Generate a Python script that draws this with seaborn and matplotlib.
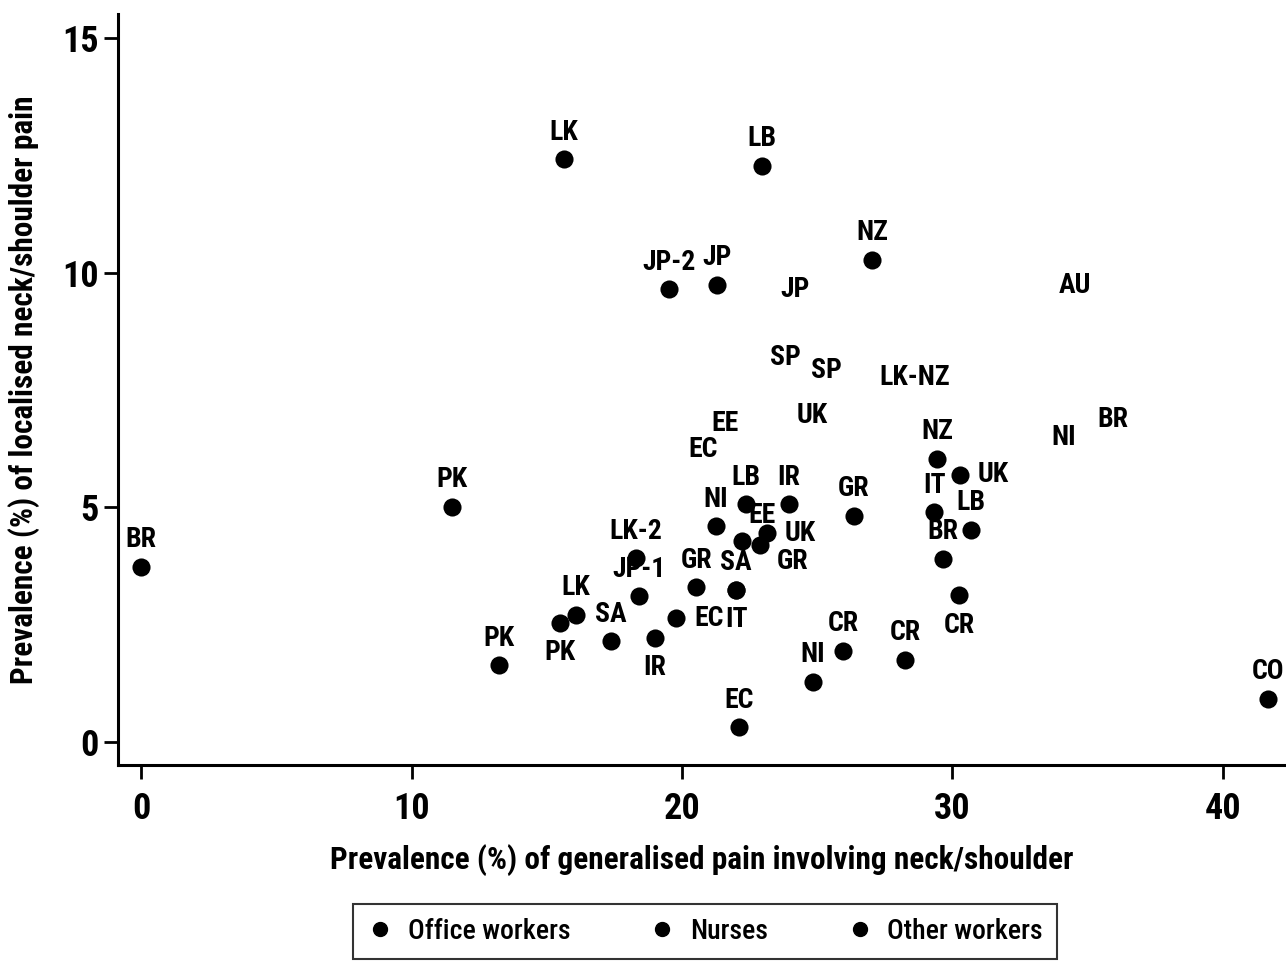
import matplotlib
matplotlib.use("Agg")
import matplotlib.pyplot as plt
from matplotlib import font_manager
from matplotlib.lines import Line2D
import pandas as pd
import seaborn as sns

# countries with a visible (dark) marker
labels = ["BR", "PK", "PK", "PK", "LK", "SA", "LK-2", "JP-1", "IR", "EC",
          "GR", "NI", "LB", "IR", "EE", "UK", "GR", "SA", "IT", "GR",
          "NZ", "UK", "IT", "LB", "BR", "CR", "CR", "CR", "NI", "EC",
          "CO", "LK", "LB", "NZ", "JP-2", "JP"]
gen_pain = [0.0, 11.5, 13.23, 15.49, 16.08, 17.38, 18.3, 18.41, 19.0, 19.78,
            20.52, 21.26, 22.37, 23.96, 22.2, 23.14, 22.88, 22.0, 22.0, 26.36,
            29.43, 30.28, 29.32, 30.68, 29.65, 30.24, 28.24, 25.95, 24.84, 22.11,
            41.66, 15.64, 22.96, 27.02, 19.52, 21.29]
loc_pain = [3.73, 5.01, 1.64, 2.54, 2.71, 2.15, 3.92, 3.11, 2.22, 2.64,
            3.30, 4.60, 5.07, 5.07, 4.28, 4.45, 4.20, 3.24, 3.24, 4.82,
            6.03, 5.69, 4.90, 4.52, 3.90, 3.13, 1.75, 1.94, 1.28, 0.32,
            0.92, 12.42, 12.28, 10.27, 9.65, 9.74]
label_pos = ["n", "n", "n", "s", "n", "n", "n", "n", "s", "e",
             "n", "n", "n", "n", "ne", "e", "se", "n", "s", "n",
             "n", "e", "n", "n", "n", "s", "n", "n", "n", "n",
             "n", "n", "n", "n", "n", "n"]

# countries whose marker is too light to see in the print
faint_labels = ["JP", "SP", "SP", "LK-NZ", "UK", "EE", "EC", "AU", "NI", "BR"]
faint_gen = [24.18, 23.81, 25.32, 28.61, 24.81, 21.59, 20.78, 34.53, 34.12, 35.93]
faint_loc = [9.06, 7.61, 7.35, 7.18, 6.39, 6.22, 5.65, 9.16, 5.92, 6.29]

groups = ["Office workers", "Nurses", "Other workers"]

df = pd.DataFrame({"x": gen_pain, "y": loc_pain, "label": labels, "pos": label_pos})
faint = pd.DataFrame({"x": faint_gen, "y": faint_loc, "label": faint_labels})

sns.set_style("ticks")
# pick a narrow font if one is around, else Liberation Sans
have = {f.name for f in font_manager.fontManager.ttflist}
narrow = [n for n in ["Roboto Condensed", "Liberation Sans Narrow", "Open Sans Condensed",
                      "Noto Sans Condensed", "DejaVu Sans Condensed"] if n in have]
font = narrow[:1] + ["Liberation Sans", "DejaVu Sans"]
plt.rcParams["font.family"] = font
plt.rcParams["font.stretch"] = "condensed"
for k in ["text.color", "axes.labelcolor", "xtick.color", "ytick.color"]:
    plt.rcParams[k] = "black"

fig = plt.figure(figsize=(12.86, 9.64), dpi=100)
ax = fig.add_axes([0.0918, 0.2064, 0.9082, 0.7791])

sns.scatterplot(data=faint, x="x", y="y", color="white", s=170, linewidth=0, ax=ax, zorder=1)
sns.scatterplot(data=df, x="x", y="y", color="black", s=170, linewidth=0, ax=ax, zorder=3)

offsets = {"n": (0, 27), "s": (0, -30), "e": (33, 0), "ne": (20, 26), "se": (33, -17)}
for _, r in df.iterrows():
    dx, dy = offsets[r["pos"]]
    ax.annotate(r["label"], (r["x"], r["y"]), xytext=(dx, dy), textcoords="offset pixels",
                ha="center", va="center", fontsize=20, fontweight="bold", zorder=4)
for _, r in faint.iterrows():
    ax.annotate(r["label"], (r["x"], r["y"]), xytext=(0, 27), textcoords="offset pixels",
                ha="center", va="center", fontsize=20, fontweight="bold", zorder=4)

ax.set_xlim(-0.85, 42.33)
ax.set_ylim(-0.49, 15.51)
ax.set_xticks([0, 10, 20, 30, 40])
ax.set_yticks([0, 5, 10, 15])
sns.despine(ax=ax)
for sp in ["left", "bottom"]:
    ax.spines[sp].set_linewidth(2.2)
    ax.spines[sp].set_color("black")
ax.tick_params(axis="both", length=10, width=2, color="black", labelsize=26)
ax.tick_params(axis="x", pad=9)
ax.tick_params(axis="y", pad=4)
for t in ax.get_xticklabels() + ax.get_yticklabels():
    t.set_fontweight("bold")

ax.set_xlabel("Prevalence (%) of generalised pain involving neck/shoulder",
              fontsize=22.5, fontweight="bold", labelpad=12)
ax.set_ylabel("Prevalence (%) of localised neck/shoulder pain",
              fontsize=22.5, fontweight="bold", labelpad=16)

handles = [Line2D([], [], marker="o", linestyle="none", color="black", markersize=10)
           for _ in groups]
leg = fig.legend(handles, groups, loc="center", bbox_to_anchor=(0.548, 0.034), ncol=3,
                 frameon=True, fancybox=False, edgecolor="black",
                 prop={"size": 20, "weight": "medium"},
                 handlelength=1.0, handletextpad=0.5, columnspacing=2.8, borderpad=0.5)
leg.get_frame().set_linewidth(1.5)

fig.savefig("out.png", dpi=100)
